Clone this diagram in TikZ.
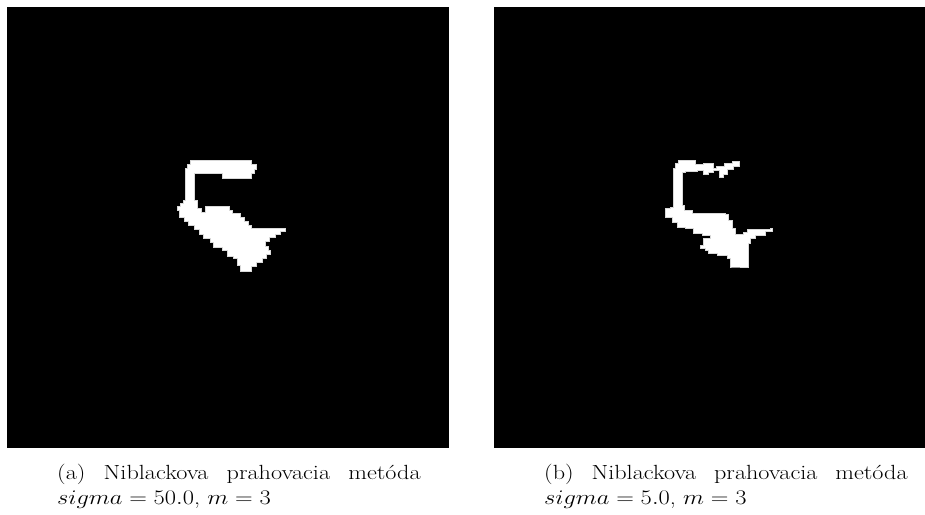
\documentclass[tikz,border=0pt]{standalone}
\usepackage{amsmath}
\tikzstyle{frame}=[fill=black]
\tikzstyle{blob}=[fill=white,draw=white!85!black,line width=0.8pt,line join=miter]
\tikzstyle{capline}=[anchor=base west,inner sep=0pt,font=\fontsize{20.5}{25}\selectfont]
\newcommand{\widetext}[1]{\scalebox{1.18}[1]{#1}} % caption text is a bit wider than tall
\newcommand{\drawpanel}[1]{ % left edge of the black square
\fill[frame] (#1,7) rectangle ++(442,441);
}
\newcommand{\drawcaption}[4]{ % name, left x, first line, second line
\node[capline] (#1top) at (#2,479) {\widetext{\makebox[308pt][s]{#3}}};
\node[capline] (#1bot) at (#2,504) {\widetext{#4}};
}

\begin{document}
\begin{tikzpicture}[x=1pt,y=-1pt]
\useasboundingbox (0,0) rectangle (925,514);
\fill[white] (0,0) rectangle (925,514);
\drawpanel{7}
\drawpanel{494}
% left mask (sigma = 50)
\draw[blob] (190,160) -- (251,160) -- (251,164) -- (256,164) -- (256,169) -- (254,169) -- (254,173)
  -- (251,173) -- (251,178) -- (222,178) -- (222,173) -- (194,173) -- (194,200) -- (197,200)
  -- (197,208) -- (201,208) -- (201,212) -- (205,212) -- (205,206) -- (229,206) -- (229,210)
  -- (232,210) -- (232,213) -- (240,213) -- (240,217) -- (244,217) -- (244,221) -- (248,221)
  -- (248,225) -- (251,225) -- (251,228) -- (285,228) -- (285,231) -- (280,231) -- (280,234)
  -- (275,234) -- (275,237) -- (269,237) -- (269,241) -- (265,241) -- (265,246) -- (268,246)
  -- (268,250) -- (270,250) -- (270,254) -- (266,254) -- (266,258) -- (262,258) -- (262,262)
  -- (256,262) -- (256,266) -- (251,266) -- (251,271) -- (240,271) -- (240,265) -- (237,265)
  -- (237,258) -- (233,258) -- (233,256) -- (227,256) -- (227,250) -- (222,250) -- (222,247)
  -- (213,247) -- (213,242) -- (210,242) -- (210,238) -- (203,238) -- (203,234) -- (199,234)
  -- (199,229) -- (194,229) -- (194,225) -- (188,225) -- (188,221) -- (184,221) -- (184,217)
  -- (179,217) -- (179,210) -- (177,210) -- (177,206) -- (180,206) -- (180,203) -- (183,203)
  -- (183,200) -- (185,200) -- (185,168) -- (187,168) -- (187,164) -- (190,164) -- cycle;
% right mask (sigma = 5)
\draw[blob] (678,160) -| (695,164) -| (703,163) -| (713,168) -| (716,166) -| (724,163)
  -| (732,161) -| (739,166) -| (733,169) -| (727,174) -| (723,177) -| (719,170)
  -| (713,172) -| (708,174) -| (703,170) -| (697,171) -| (685,172) -| (682,175)
  |- (682,205) -| (684,210) -| (692,213) -| (725,214) -| (728,220) -| (732,228)
  -| (735,234) -| (743,232) -| (747,229) -| (770,228) -| (772,231) -| (765,235)
  -| (755,238) -| (750,243) -| (748,250) |- (748,267) -| (732,267) -| (730,258)
  -| (727,255) -| (717,253) -| (708,250) -| (705,248) -| (700,245) -| (703,238)
  -| (710,235) -| (702,233) -| (693,228) -| (685,227) -| (677,222) -| (672,217)
  -| (665,215) |- (665,208) -| (670,207) -| (673,205) |- (673,168) -| (675,163) -| (678,160) -- cycle;
\drawcaption{capa}{57}{(a) Niblackova prahovacia metóda}{$sigma = 50.0$, $m = 3$}
\drawcaption{capb}{544}{(b) Niblackova prahovacia metóda}{$sigma = 5.0$, $m = 3$}
\end{tikzpicture}
\end{document}
